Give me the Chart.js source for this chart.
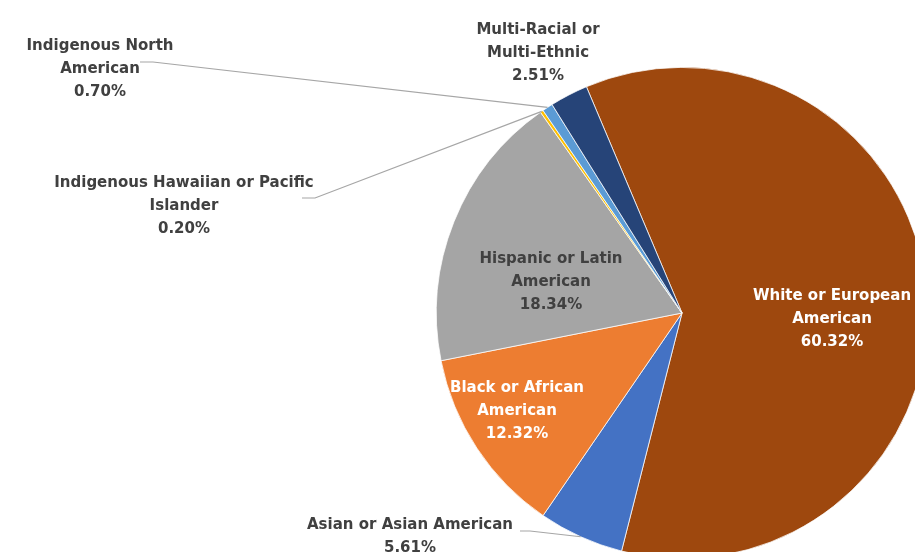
<!DOCTYPE html>
<html>
<head>
<meta charset="utf-8">
<script src="https://cdn.jsdelivr.net/npm/chart.js@4"></script>
<style>
  html, body { margin: 0; padding: 0; overflow: hidden; background: #fff; width: 915px; height: 552px; }
  #wrap { position: absolute; left: 0; top: 0; width: 930px; height: 560px; }
</style>
</head>
<body>
<div id="wrap"><canvas id="pieChart" width="930" height="560"></canvas></div>
<script>
// data, clockwise from the big slice
const groups = [
  ["White or European", "American"],
  ["Asian or Asian American"],
  ["Black or African", "American"],
  ["Hispanic or Latin", "American"],
  ["Indigenous Hawaiian or Pacific", "Islander"],
  ["Indigenous North", "American"],
  ["Multi-Racial or", "Multi-Ethnic"]
];
const shares = [60.32, 5.61, 12.32, 18.34, 0.20, 0.70, 2.51];
const sliceColors = ['#9E480E', '#4472C4', '#ED7D31', '#A5A5A5', '#FFC000', '#5B9BD5', '#264478'];

// label placement, offsets from the pie centre (px); elbow = where the leader line leaves the text
const labelLayout = [
  { dx: 150, dy: 6, color: '#FFFFFF', elbow: null },
  { dx: -272, dy: 224, color: '#404040', elbow: [[-162, 218], [-152, 218]] },
  { dx: -165, dy: 98, color: '#FFFFFF', elbow: null },
  { dx: -131, dy: -31, color: '#404040', elbow: null },
  { dx: -498, dy: -107, color: '#404040', elbow: [[-380, -115], [-367, -115]] },
  { dx: -582, dy: -244, color: '#404040', elbow: [[-542, -251], [-529, -251]] },
  { dx: -144, dy: -260, color: '#404040', elbow: null }
];

const LINE_H = 23;
const labelFont = 'bold 15px "DejaVu Sans", sans-serif';

const pieLabels = {
  id: 'pieLabels',
  afterDraw(chart) {
    const ctx = chart.ctx;
    const meta = chart.getDatasetMeta(0);
    ctx.save();
    meta.data.forEach((arc, i) => {
      const p = arc.getProps(['x', 'y', 'startAngle', 'endAngle', 'outerRadius']);
      const lay = labelLayout[i];
      const cx = p.x + lay.dx, cy = p.y + lay.dy;

      // leader line to the middle of the slice edge
      if (lay.elbow) {
        const mid = (p.startAngle + p.endAngle) / 2;
        ctx.beginPath();
        ctx.strokeStyle = '#A6A6A6';
        ctx.lineWidth = 1.2;
        ctx.moveTo(p.x + lay.elbow[0][0], p.y + lay.elbow[0][1]);
        ctx.lineTo(p.x + lay.elbow[1][0], p.y + lay.elbow[1][1]);
        ctx.lineTo(p.x + Math.cos(mid) * p.outerRadius, p.y + Math.sin(mid) * p.outerRadius);
        ctx.stroke();
      }

      const lines = groups[i].concat([shares[i].toFixed(2) + '%']);
      ctx.font = labelFont;
      ctx.fillStyle = lay.color;
      ctx.textAlign = 'center';
      ctx.textBaseline = 'middle';
      const top = cy - (lines.length - 1) * LINE_H / 2;
      lines.forEach((t, k) => ctx.fillText(t, cx, top + k * LINE_H));
    });
    ctx.restore();
  }
};

new Chart(document.getElementById('pieChart'), {
  type: 'pie',
  data: {
    labels: groups.map(g => g.join(' ')),
    datasets: [{
      data: shares,
      backgroundColor: sliceColors,
      borderColor: '#FFFFFF',
      borderWidth: 0.75,
      hoverOffset: 0
    }]
  },
  options: {
    responsive: false,
    animation: false,
    rotation: -22.9,
    layout: { padding: { left: 436, top: 67, right: 2, bottom: 1 } },
    plugins: {
      legend: { display: false },
      tooltip: { enabled: false }
    }
  },
  plugins: [pieLabels]
});
</script>
</body>
</html>
